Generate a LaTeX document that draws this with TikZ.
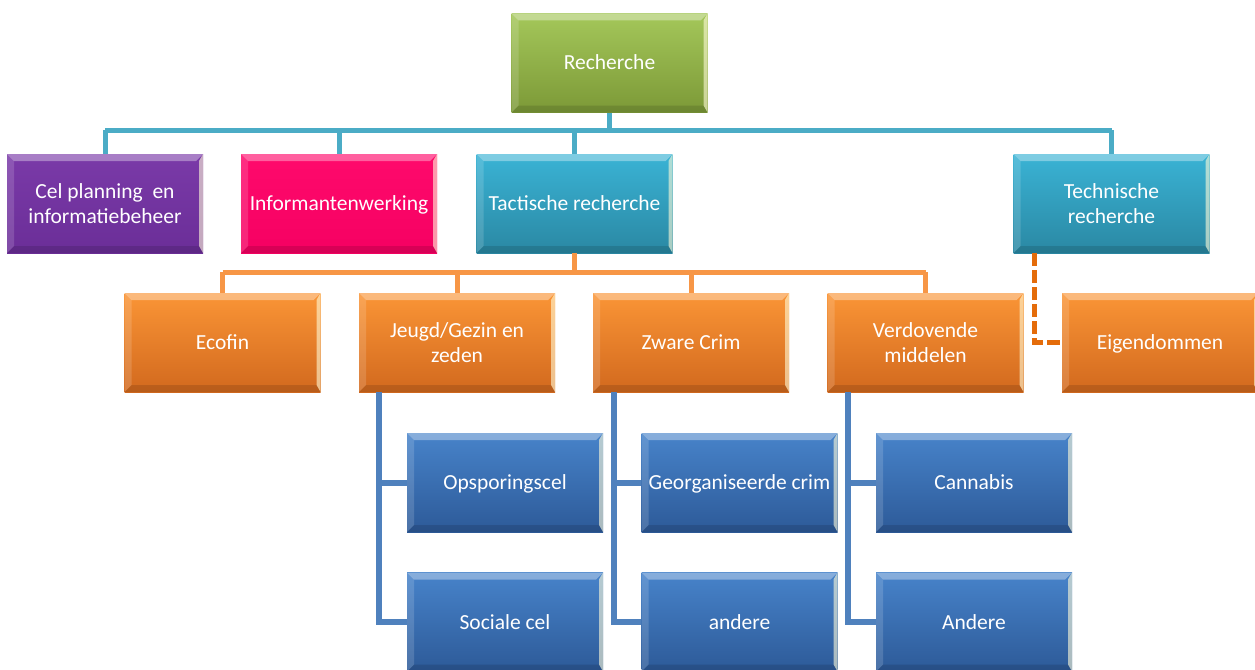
\documentclass[tikz,border=0pt]{standalone}
\usepackage{fontspec}
\setmainfont{Carlito}
\newcommand{\mystrut}{\rule[-5pt]{0pt}{24pt}}
\begin{document}
\begin{tikzpicture}[x=1pt,y=-1pt,
  bx/.style 2 args={rectangle, top color=#1, bottom color=#2, draw=none,
    minimum width=196pt, minimum height=99pt, inner sep=0pt, align=center,
    text=white, font=\fontsize{21.5}{25}\selectfont,
    path picture={
      \fill[white,opacity=0.35] (path picture bounding box.north west) -- (path picture bounding box.north east)
        -- ([xshift=-7pt,yshift=-7pt]path picture bounding box.north east) -- ([xshift=7pt,yshift=-7pt]path picture bounding box.north west) -- cycle;
      \fill[white,opacity=0.15] (path picture bounding box.north west) -- ([xshift=7pt,yshift=-7pt]path picture bounding box.north west)
        -- ([xshift=7pt,yshift=7pt]path picture bounding box.south west) -- (path picture bounding box.south west) -- cycle;
      \fill[cHL,opacity=0.6] (path picture bounding box.north east) -- ([xshift=-4pt,yshift=-7pt]path picture bounding box.north east)
        -- ([xshift=-4pt,yshift=7pt]path picture bounding box.south east) -- (path picture bounding box.south east) -- cycle;
      \fill[black,opacity=0.12] (path picture bounding box.south west) -- ([xshift=7pt,yshift=7pt]path picture bounding box.south west)
        -- ([xshift=-4pt,yshift=7pt]path picture bounding box.south east) -- (path picture bounding box.south east) -- cycle;
    }},
  green/.style={bx={cA1}{cA2}},
  purple/.style={bx={cP1}{cP2}},
  magenta/.style={bx={cM1}{cM2}},
  teal/.style={bx={cT1}{cT2}},
  orng/.style={bx={cO1}{cO2}},
  blu/.style={bx={cB1}{cB2}},
  tline/.style={draw=cTL, line width=5pt},
  oline/.style={draw=cOL, line width=5pt},
  odash/.style={draw=cOD, line width=5pt, dash pattern=on 13pt off 4pt},
  bline/.style={draw=cBL, line width=6pt},
]
\definecolor{cHL}{HTML}{FFFBD8}
\definecolor{cA1}{HTML}{A4C75A}\definecolor{cA2}{HTML}{7C9937}
\definecolor{cP1}{HTML}{7A3AA8}\definecolor{cP2}{HTML}{6B2E98}
\definecolor{cM1}{HTML}{FF0A6C}\definecolor{cM2}{HTML}{F50062}
\definecolor{cT1}{HTML}{3AB3D5}\definecolor{cT2}{HTML}{2A88A3}
\definecolor{cO1}{HTML}{FA9536}\definecolor{cO2}{HTML}{D2691E}
\definecolor{cB1}{HTML}{4783CA}\definecolor{cB2}{HTML}{2D5A98}
\definecolor{cTL}{HTML}{4BACC6}
\definecolor{cOL}{HTML}{F79646}
\definecolor{cOD}{HTML}{E46C0A}
\definecolor{cBL}{HTML}{4F81BD}
\useasboundingbox (0,0) rectangle (1255,669);

\coordinate (bus1) at (609,130);
\coordinate (bus2) at (574,272);

\node[green] (rech) at (609.5,63) {\mystrut Recherche};

\node[purple] (cel) at (105,203.5) {Cel planning\ \ en\\informatiebeheer};
\node[magenta] (info) at (339,203.5) {\mystrut Informantenwerking};
\node[teal] (tact) at (574.5,203.5) {\mystrut Tactische recherche};
\node[teal] (tech) at (1111.5,203.5) {Technische\\recherche};

\node[orng] (eco) at (222.5,342.5) {\mystrut Ecofin};
\node[orng] (jeugd) at (457,342.5) {Jeugd/Gezin en\\zeden};
\node[orng] (zware) at (691,342.5) {\mystrut Zware Crim};
\node[orng] (verd) at (925.5,342.5) {Verdovende\\middelen};
\node[orng] (eigen) at (1160,342.5) {\mystrut Eigendommen};

\node[blu] (ops) at (505,482.5) {\mystrut Opsporingscel};
\node[blu] (soc) at (505,622) {\mystrut Sociale cel};
\node[blu] (geo) at (739.5,482.5) {\mystrut Georganiseerde crim};
\node[blu] (and1) at (739.5,622) {\mystrut andere};
\node[blu] (can) at (974,482.5) {\mystrut Cannabis};
\node[blu] (and2) at (974,622) {\mystrut Andere};

% teal tree
\draw[tline] (rech.south) -- (rech.south |- bus1);
\draw[tline] (bus1 -| cel.north) -- (bus1 -| tech.north);
\draw[tline] (bus1 -| cel.north) -- (cel.north);
\draw[tline] (bus1 -| info.north) -- (info.north);
\draw[tline] (bus1 -| tact.north) -- (tact.north);
\draw[tline] (bus1 -| tech.north) -- (tech.north);

% orange tree
\draw[oline] (tact.south) -- (tact.south |- bus2);
\draw[oline] (bus2 -| eco.north) -- (bus2 -| verd.north);
\draw[oline] (bus2 -| eco.north) -- (eco.north);
\draw[oline] (bus2 -| jeugd.north) -- (jeugd.north);
\draw[oline] (bus2 -| zware.north) -- (zware.north);
\draw[oline] (bus2 -| verd.north) -- (verd.north);

% dashed
\draw[odash] ([xshift=21pt]tech.south west) |- (eigen.west);

% blue
\draw[bline] ([xshift=20pt]jeugd.south west) |- (ops.west);
\draw[bline] ([xshift=20pt]jeugd.south west) |- (soc.west);
\draw[bline] ([xshift=21pt]zware.south west) |- (geo.west);
\draw[bline] ([xshift=21pt]zware.south west) |- (and1.west);
\draw[bline] ([xshift=21pt]verd.south west) |- (can.west);
\draw[bline] ([xshift=21pt]verd.south west) |- (and2.west);
\end{tikzpicture}
\end{document}
